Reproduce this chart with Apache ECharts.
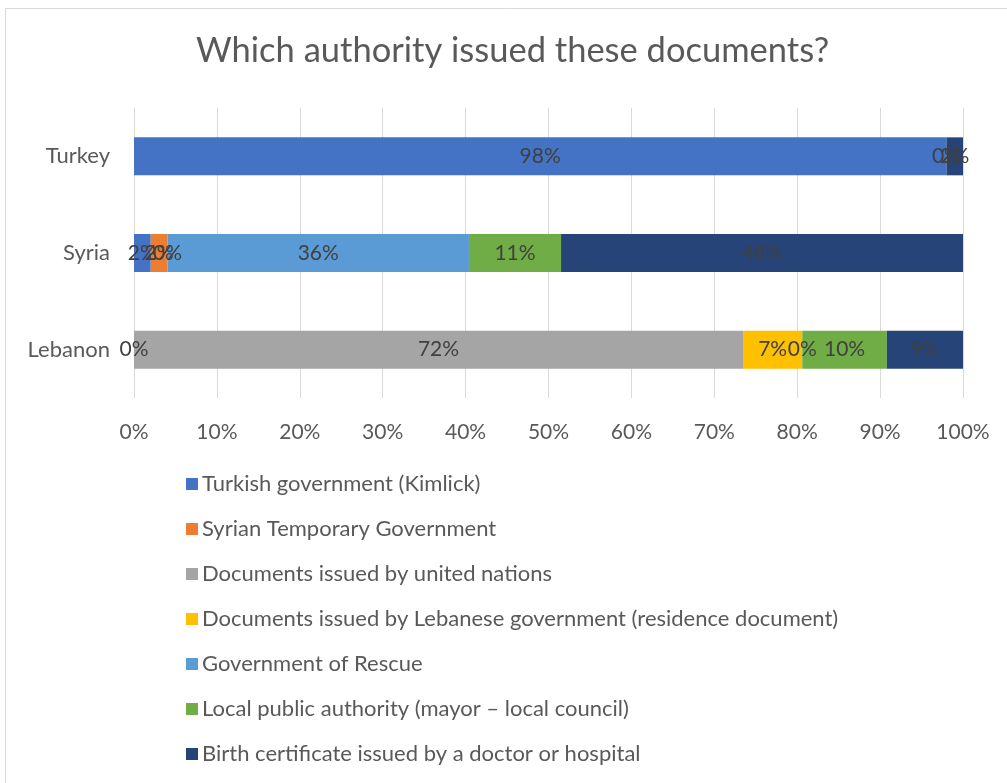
<!DOCTYPE html>
<html>
<head>
<meta charset="utf-8">
<title>Which authority issued these documents?</title>
<script src="https://cdn.jsdelivr.net/npm/echarts@6/dist/echarts.min.js"></script>
<style>
  html, body { margin: 0; padding: 0; background: #ffffff; }
  #chart { width: 1007px; height: 783px; }
</style>
</head>
<body>
<div id="chart"></div>
<script>
// Countries, top to bottom
const categories = ['Turkey', 'Syria', 'Lebanon'];

// Share of respondents per issuing authority (%), one value per country; null = not asked
const turkishGov   = [98, 2, 0];
const syrianTemp   = [null, 2, null];
const unitedNations = [null, 0, 72];
const lebaneseGov  = [null, null, 7];
const rescueGov    = [null, 36, 0];
const localAuth    = [0, 11, 10];
const birthCert    = [2, 48, 9];

const xTicks = [0, 10, 20, 30, 40, 50, 60, 70, 80, 90, 100];

const seriesDefs = [
  { name: 'Turkish government (Kimlick)', data: turkishGov, color: '#4472C4' },
  { name: 'Syrian Temporary Government', data: syrianTemp, color: '#ED7D31' },
  { name: 'Documents issued by united nations', data: unitedNations, color: '#A5A5A5' },
  { name: 'Documents issued by Lebanese government (residence document)', data: lebaneseGov, color: '#FFC000' },
  { name: 'Government of Rescue', data: rescueGov, color: '#5B9BD5' },
  { name: 'Local public authority (mayor – local council)', data: localAuth, color: '#70AD47' },
  { name: 'Birth certificate issued by a doctor or hospital', data: birthCert, color: '#264478' }
];

// 100% stacked: each bar is scaled by its country's total, labels keep the raw value
const totals = categories.map((_, i) =>
  seriesDefs.reduce((s, d) => s + (d.data[i] == null ? 0 : d.data[i]), 0));

const FONT = 'Lato, "Noto Sans", sans-serif';

const chart = echarts.init(document.getElementById('chart'), null, { renderer: 'canvas' });

chart.setOption({
  backgroundColor: '#ffffff',
  animation: false,
  title: {
    text: 'Which authority issued these documents?',
    left: 196,
    top: 33,
    padding: 0,
    textStyle: { fontFamily: FONT, fontSize: 34.5, fontWeight: 'normal', color: '#595959' }
  },
  graphic: [{
    type: 'rect',
    shape: { x: 5.5, y: 8.5, width: 1020, height: 800 },
    style: { fill: 'none', stroke: '#d9d9d9', lineWidth: 1 },
    silent: true
  }],
  grid: { left: 134, right: 44, top: 108, bottom: 385, containLabel: false },
  xAxis: {
    type: 'value',
    min: 0,
    max: 100,
    interval: 10,
    axisLine: { show: false },
    axisTick: { show: false },
    splitLine: { show: true, lineStyle: { color: '#d9d9d9', width: 1 } },
    axisLabel: {
      margin: 24,
      color: '#595959',
      fontFamily: FONT,
      fontSize: 21,
      formatter: v => (xTicks.includes(v) ? v + '%' : '')
    }
  },
  yAxis: {
    type: 'category',
    inverse: true,
    data: categories,
    axisLine: { show: false },
    axisTick: { show: false },
    axisLabel: { margin: 24, color: '#595959', fontFamily: FONT, fontSize: 22 }
  },
  legend: {
    orient: 'vertical',
    left: 181,
    top: 468,
    icon: 'rect',
    itemWidth: 12,
    itemHeight: 12,
    itemGap: 23,
    selectedMode: false,
    textStyle: { color: '#595959', fontFamily: FONT, fontSize: 22, lineHeight: 22, padding: [0, 0, 0, -1] },
    data: seriesDefs.map(d => d.name)
  },
  series: seriesDefs.map(d => ({
    name: d.name,
    type: 'bar',
    stack: 'total',
    barWidth: 38,
    itemStyle: { color: d.color },
    label: {
      show: true,
      position: 'inside',
      color: '#404040',
      fontFamily: FONT,
      fontSize: 21,
      formatter: p => d.data[p.dataIndex] + '%'
    },
    labelLayout: { hideOverlap: false },
    data: d.data.map((v, i) => (v == null ? null : v / totals[i] * 100))
  }))
});
</script>
</body>
</html>
